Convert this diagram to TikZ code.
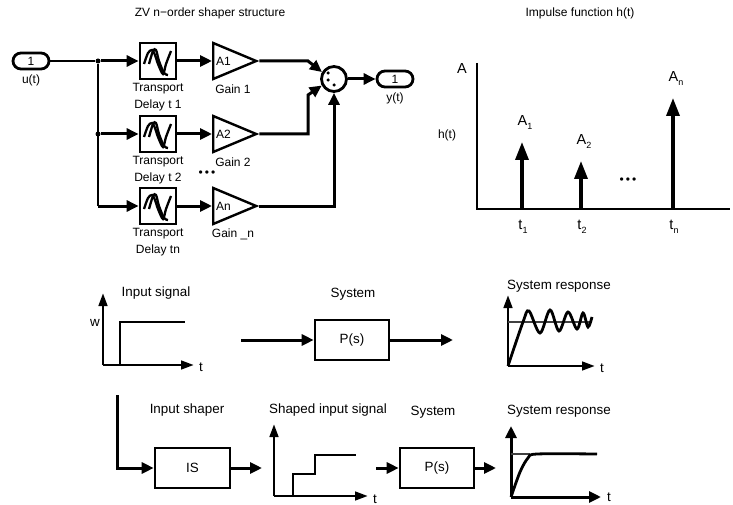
\documentclass[tikz,border=0pt]{standalone}
\usepackage{fontspec}
\setmainfont{Liberation Sans}
\usetikzlibrary{arrows.meta,shapes.geometric}
\tikzset{
    txt/.style={inner sep=0pt,font=\fontsize{12}{14}\selectfont},
    lowtxt/.style={inner sep=0pt,font=\fontsize{13.4}{15}\selectfont},
    bigtxt/.style={inner sep=0pt,font=\fontsize{14.5}{16}\selectfont},
    sig/.style={line width=3pt,-{Triangle[length=12pt,width=11pt]}},
    axis/.style={line width=2.8pt,-{Triangle[length=13pt,width=8.5pt]}},
    imp/.style={line width=3.4pt,-{Triangle[length=18pt,width=13pt]}},
    wire/.style={line width=2.8pt},
    inport/.style={draw,line width=2.8pt,rounded corners=8pt,minimum width=36pt,minimum height=16pt,inner sep=0pt,font=\fontsize{12}{14}\selectfont},
    delaybox/.style={draw,line width=2.8pt,minimum size=36pt,inner sep=0pt},
    gainbox/.style={draw,line width=2.4pt,isosceles triangle,isosceles triangle stretches,shape border rotate=0,minimum width=36pt,minimum height=43pt,inner sep=0pt},
    sysbox/.style={draw,line width=2.6pt,minimum width=74pt,minimum height=40pt,inner sep=0pt,font=\fontsize{13.4}{15}\selectfont},
    dot/.style={circle,fill,inner sep=0pt,minimum size=#1},
}
\newcommand{\low}[1]{\raisebox{-4pt}{\fontsize{9}{9}\selectfont #1}}
\begin{document}
\begin{tikzpicture}[x=1pt,y=-1pt]
    \useasboundingbox (0,0) rectangle (733,505);
    % shaper structure
    \node[txt] (title1) at (210,13) {ZV n\textminus order shaper structure};
    \node[inport] (uin) at (31,61) {1};
    \node[txt] (ulabel) at (31,80) {u(t)};
    \node[dot=5pt] (j1) at (98,61) {};
    \node[dot=5pt] (j2) at (98,134) {};
    \coordinate (j3) at (98,206);
    \foreach \i/\y/\dname/\gname/\aname in {1/61/Delay t 1/Gain 1/A1,2/134/Delay t 2/Gain 2/A2,3/206/Delay tn/Gain \_n/An} {
        \node[delaybox] (delay\i) at (158,\y) {};
        \draw[line width=2.3pt,shift={(delay\i.center)}] plot[smooth] coordinates {(-14,3) (-10,-8) (-6,-11) (-3,-6) (0,3) (5,13) (8,3) (13,-10)};
        \draw[line width=2.3pt,shift={(delay\i.center)}] plot[smooth] coordinates {(-9,3) (-5,-10) (-2,-11) (1,0) (6,12) (10,14)};
        \node[gainbox,anchor=lower side] (gain\i) at (212,\y) {};
        \node[txt,anchor=west] (aval\i) at (216,\y) {\aname};
        \node[txt] (dtop\i) at (158,\y+28) {Transport};
        \node[txt] (dbot\i) at (158,\y+44) {\dname};
        \node[txt] (glab\i) at (233,\y+28) {\gname};
        \draw[sig] (j\i) -- (delay\i);
        \draw[sig] (delay\i) -- (gain\i.lower side);
    }
    \draw[wire] (uin) -- (j1) -- (j3);
    \node[txt] (dots1) at (207,174) {\textbullet\,\textbullet\,\textbullet};
    \node[draw,circle,line width=2.8pt,minimum size=25pt,inner sep=0pt] (sum) at (334,79) {};
    \node[dot=3.5pt] (s1) at (328,73) {};
    \node[dot=3.5pt] (s2) at (328,80) {};
    \node[dot=3.5pt] (s3) at (334,85) {};
    \node[inport] (yout) at (395,79) {1};
    \node[txt] (ylabel) at (395,98) {y(t)};
    \coordinate (b1) at (308,61);
    \coordinate (b2) at (308,95);
    \draw[sig] (gain1.apex) -- (b1) -- (sum.150);
    \draw[sig] (gain2.apex) -| (b2) -- (sum.208);
    \draw[sig] (gain3.apex) -| (sum.south);
    \draw[sig] (sum) -- (yout);
    % impulse function
    \node[txt] (title2) at (580,13) {Impulse function h(t)};
    \coordinate (top) at (477,63);
    \coordinate (org) at (477,209);
    \coordinate (end) at (730,209);
    \draw[line width=1.4pt] (top) -- (org) -- (end);
    \node[bigtxt] (alab) at (462,69) {A};
    \node[txt] (hlab) at (447,135) {h(t)};
    \foreach \i/\x/\tip/\lab in {1/522/142/1,2/581/161/2,3/673/98/n} {
        \coordinate (base\i) at (\x,209);
        \coordinate (peak\i) at (\x,\tip);
        \draw[imp] (base\i) -- (peak\i);
        \node[bigtxt] (alab\i) at (\x+3,\tip-19) {A\low{\lab}};
        \node[bigtxt] (tlab\i) at (\x+1,227) {t\low{\lab}};
    }
    \node[txt] (dots2) at (628,181) {\textbullet\,\textbullet\,\textbullet};
    % open loop row
    \node[lowtxt] (ttl3) at (156,293) {Input signal};
    \coordinate (o1) at (103,365);
    \coordinate (o1y) at (103,293);
    \coordinate (o1x) at (194,365);
    \draw[axis] (o1) -- (o1y);
    \draw[axis] (o1) -- (o1x);
    \node[lowtxt] (w1) at (95,323) {w};
    \node[lowtxt] (t1) at (201,367) {t};
    \draw[wire] (120,365) -- (120,322) -- (185,322);
    \node[lowtxt] (ttl4) at (353,294) {System};
    \node[sysbox] (plant1) at (352,340) {P(s)};
    \coordinate (pin1) at (241,340);
    \coordinate (pout1) at (453,340);
    \draw[sig] (pin1) -- (plant1);
    \draw[sig] (plant1) -- (pout1);
    \node[lowtxt] (ttl5) at (559,286) {System response};
    \coordinate (o2) at (508,366);
    \coordinate (o2y) at (508,295);
    \coordinate (o2x) at (595,366);
    \draw[axis] (o2) -- (o2y);
    \draw[axis] (o2) -- (o2x);
    \node[lowtxt] (t2) at (602,368) {t};
    \draw[line width=1.8pt,black!75] (508,322) -- (590,322);
    \draw[wire] plot[smooth,tension=0.55] coordinates {(508,366) (523,322) (529,311) (540,333) (550,310) (559,331) (568,312) (577,329) (583,313) (588,327) (592,317)};
    % shaped row
    \coordinate (lstart) at (117,395);
    \coordinate (lbend) at (117,468);
    \node[sysbox,minimum width=75pt] (shaper) at (192.5,468) {IS};
    \draw[sig] (lstart) -- (lbend) -- (shaper);
    \node[lowtxt] (ttl6) at (187,410) {Input shaper};
    \coordinate (sout) at (262,468);
    \draw[sig] (shaper) -- (sout);
    \node[lowtxt] (ttl7) at (328,410) {Shaped input signal};
    \coordinate (o3) at (274,496);
    \coordinate (o3y) at (274,424);
    \coordinate (o3x) at (368,496);
    \draw[axis] (o3) -- (o3y);
    \draw[axis] (o3) -- (o3x);
    \node[lowtxt] (t3) at (375,499) {t};
    \draw[wire] (293,496) -- (293,474) -- (315,474) -- (315,455) -- (356,455);
    \node[lowtxt] (ttl8) at (433,412) {System};
    \node[sysbox] (plant2) at (437,468) {P(s)};
    \coordinate (pin2) at (376,468);
    \coordinate (pout2) at (496,468);
    \draw[sig] (pin2) -- (plant2);
    \draw[sig] (plant2) -- (pout2);
    \node[lowtxt] (ttl9) at (559,411) {System response};
    \coordinate (o4) at (511,497);
    \coordinate (o4y) at (511,426);
    \coordinate (o4x) at (601,497);
    \draw[sig] (o4) -- (o4y);
    \draw[sig] (o4) -- (o4x);
    \node[lowtxt] (t4) at (609,497) {t};
    \draw[line width=1.6pt,black!75] (511,454) -- (530,454);
    \draw[wire] plot[smooth,tension=0.5] coordinates {(511,497) (520,472) (528,458) (537,454) (597,454)};
\end{tikzpicture}
\end{document}
